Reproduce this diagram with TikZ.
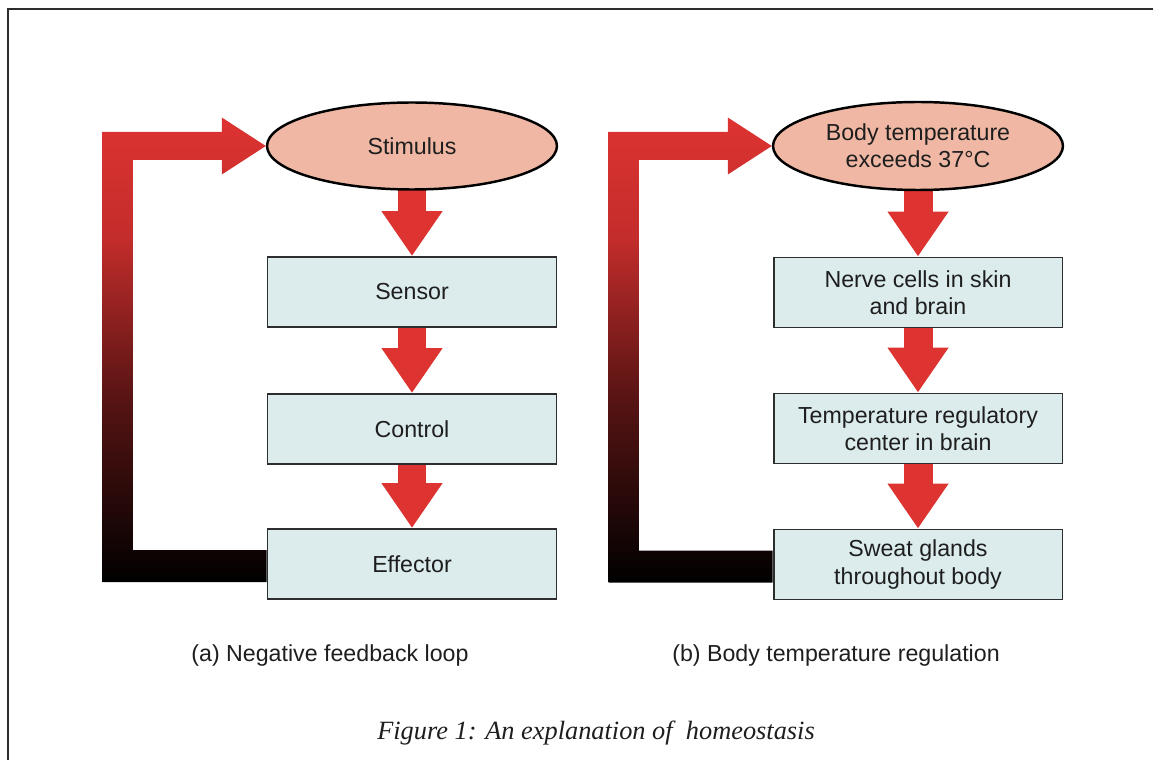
\documentclass[tikz,border=0pt]{standalone}
\usepackage{fontspec}
\setmainfont{Liberation Serif}
\setsansfont{Liberation Sans}
\usetikzlibrary{shapes.geometric,arrows.meta,backgrounds,calc}

\definecolor{arrowred}{RGB}{221,51,49}
\definecolor{stimfill}{RGB}{240,184,164}
\definecolor{boxfill}{RGB}{220,236,237}
\definecolor{framegray}{RGB}{45,45,45}
\definecolor{textdark}{RGB}{30,30,30}
\colorlet{fadelow}{arrowred!40!black}
\colorlet{fadehigh}{arrowred!88!black}

% red on top, black at the bottom of the return path
\pgfdeclareverticalshading{feedbackfade}{100bp}{color(0bp)=(black); color(25bp)=(black); color(45bp)=(fadelow); color(62bp)=(fadehigh); color(75bp)=(arrowred); color(100bp)=(arrowred)}

\newcommand\labelfont{\sffamily\fontsize{13.2}{15.5}\selectfont}

\begin{document}
\begin{tikzpicture}[x=0.02cm, y=-0.02cm,
  stimulus/.style={ellipse, draw=black, line width=1.4pt, fill=stimfill,
    minimum width=5.8cm, minimum height=1.74cm, inner sep=0pt,
    align=center, font=\labelfont, text=textdark},
  stage/.style={rectangle, draw=framegray, line width=1.1pt, fill=boxfill,
    minimum width=5.78cm, minimum height=1.4cm, inner sep=0pt,
    align=center, font=\labelfont, text=textdark},
  flow/.style={arrowred, line width=16.5pt, -{Triangle[width=33pt,length=25.6pt]}},
  panellabel/.style={font=\labelfont, text=textdark}]
\useasboundingbox (0,0) rectangle (1153,760);

% frame of the page
\draw[framegray, line width=1.4pt] (1153,9) -- (8,9) -- (8,760);

% (a) general loop
\node[stimulus] (stimA) at (412,146) {Stimulus};
\node[stage] (sensorA) at (412,292) {Sensor};
\node[stage] (controlA) at (412,429) {Control};
\node[stage] (effectorA) at (412,564) {Effector};

% (b) body temperature
\node[stimulus, minimum height=1.76cm] (stimB) at (918,146) {Body temperature\\exceeds 37°C};
\node[stage] (sensorB) at (918,292.5) {Nerve cells in skin\\and brain};
\node[stage] (controlB) at (918,428.5) {Temperature regulatory\\center in brain};
\node[stage] (effectorB) at (918,564.5) {Sweat glands\\throughout body};

\begin{scope}[on background layer]
\foreach \p in {A,B} {
  \draw[flow] ($(stim\p.south)+(0,-12)$) -- (sensor\p.north);
  \draw[flow] (sensor\p.south) -- (control\p.north);
  \draw[flow] (control\p.south) -- (effector\p.north);
  % feedback back to the stimulus
  \shade[shading=feedbackfade] ($(effector\p.west)+(0,-14)$)
    -| ($(stim\p.west)+(-133,14)$) -- ++(89,0) -- ++(0,14.5)
    -- (stim\p.west) -- ++(-44,-28.5) -- ++(0,14.5)
    -| ($(effector\p.west)+(-164,18)$) -- ($(effector\p.west)+(0,18)$) -- cycle;
}
\end{scope}

\node[panellabel] (labelA) at (330,656) {(a) Negative feedback loop};
\node[panellabel] (labelB) at (836,656) {(b) Body temperature regulation};
\node[font=\fontsize{15}{18}\selectfont\itshape, text=textdark] (figcap) at (596,733)
  {Figure 1: An explanation of\ \ homeostasis};
\end{tikzpicture}
\end{document}
